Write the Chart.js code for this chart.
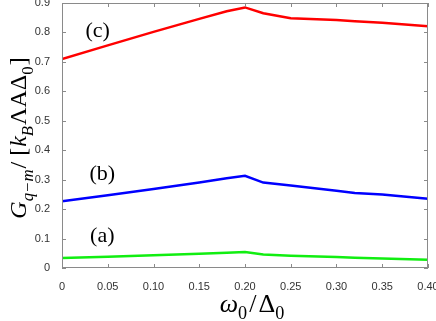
<!DOCTYPE html>
<html>
<head>
<meta charset="utf-8">
<script src="https://cdn.jsdelivr.net/npm/chart.js@4/dist/chart.umd.min.js"></script>
<style>
  html, body { margin: 0; padding: 0; background: #fff; }
  #wrap { width: 436px; height: 321px; }
</style>
</head>
<body>
<div id="wrap"><canvas id="chart"></canvas></div>
<script>
// omega_0 / Delta_0 sample points
const omega = [0, 0.05, 0.1, 0.15, 0.18, 0.2, 0.22, 0.25, 0.3, 0.32, 0.35, 0.4];
// (c) red, (b) blue, (a) green
const seriesC = [0.71, 0.756, 0.802, 0.846, 0.872, 0.885, 0.865, 0.848, 0.842, 0.838, 0.833, 0.821];
const seriesB = [0.227, 0.247, 0.268, 0.29, 0.305, 0.313, 0.29, 0.28, 0.262, 0.255, 0.25, 0.235];
const seriesA = [0.034, 0.038, 0.043, 0.048, 0.052, 0.054, 0.046, 0.042, 0.037, 0.035, 0.032, 0.028];
const panelLabels = ['(a)', '(b)', '(c)'];

const toPoints = ys => omega.map((x, i) => ({ x: x, y: ys[i] }));

const serif = '"Liberation Serif", "DejaVu Serif", serif';

// draw a run of text pieces (normal / italic / subscript) centred on (0,0) along x
function drawRuns(ctx, runs, size) {
    let total = 0;
    const measured = runs.map(r => {
        const s = r.sub ? size * 0.7 : size;
        ctx.font = (r.it ? 'italic ' : '') + s + 'px ' + serif;
        const w = ctx.measureText(r.t).width + (r.gap || 0);
        total += w;
        return { r, s, w };
    });
    let x = -total / 2;
    measured.forEach(m => {
        ctx.font = (m.r.it ? 'italic ' : '') + m.s + 'px ' + serif;
        ctx.fillText(m.r.t, x, m.r.sub ? size * 0.28 : 0);
        x += m.w;
    });
}

const framePlugin = {
    id: 'frame',
    afterDraw(chart) {
        const { ctx, chartArea: a, scales } = chart;
        ctx.save();
        ctx.strokeStyle = '#8a8a8a';
        ctx.lineWidth = 1;
        ctx.strokeRect(a.left + 0.5, a.top + 0.5, a.right - a.left - 1, a.bottom - a.top - 1);

        // inward ticks on all four sides
        ctx.beginPath();
        scales.x.ticks.forEach(t => {
            const px = Math.round(scales.x.getPixelForValue(t.value)) + 0.5;
            ctx.moveTo(px, a.bottom); ctx.lineTo(px, a.bottom - 4);
            ctx.moveTo(px, a.top); ctx.lineTo(px, a.top + 4);
        });
        scales.y.ticks.forEach(t => {
            const py = Math.round(scales.y.getPixelForValue(t.value)) + 0.5;
            ctx.moveTo(a.left, py); ctx.lineTo(a.left + 4, py);
            ctx.moveTo(a.right, py); ctx.lineTo(a.right - 4, py);
        });
        ctx.stroke();

        // panel labels
        ctx.fillStyle = '#000';
        ctx.font = '22px ' + serif;
        ctx.textAlign = 'center';
        ctx.textBaseline = 'middle';
        const spots = [[0.044, 0.109], [0.044, 0.32], [0.039, 0.805]];
        panelLabels.forEach((lab, i) => {
            ctx.fillText(lab, scales.x.getPixelForValue(spots[i][0]), scales.y.getPixelForValue(spots[i][1]));
        });

        // axis titles
        ctx.textAlign = 'left';
        ctx.textBaseline = 'alphabetic';
        ctx.save();
        ctx.translate(252, 312);
        drawRuns(ctx, [
            { t: 'ω', it: true }, { t: '0', sub: true, gap: 2 },
            { t: '/', gap: 2 }, { t: 'Δ' }, { t: '0', sub: true }
        ], 26);
        ctx.restore();

        ctx.save();
        ctx.translate(26, 138);
        ctx.rotate(-Math.PI / 2);
        drawRuns(ctx, [
            { t: 'G', it: true }, { t: 'q−m', it: true, sub: true, gap: 1 },
            { t: '/ [', gap: 1 }, { t: 'k', it: true }, { t: 'B', it: true, sub: true, gap: 1 },
            { t: 'ΛAΔ' }, { t: '0', sub: true, gap: 1 }, { t: ']' }
        ], 24);
        ctx.restore();
        ctx.restore();
    }
};

const tickFont = { family: '"Liberation Sans", Arial, sans-serif', size: 11 };

// drop the label overhang padding so the plot box fills the frame like the reference
const noOverhang = s => { s.paddingTop = 0; s.paddingRight = 0; s.paddingLeft = 0; s.paddingBottom = 0; };

new Chart(document.getElementById('chart'), {
    type: 'line',
    data: {
        datasets: [
            { data: toPoints(seriesC), borderColor: '#ff0000' },
            { data: toPoints(seriesB), borderColor: '#0000ff' },
            { data: toPoints(seriesA), borderColor: '#11ee11' }
        ]
    },
    options: {
        responsive: true,
        maintainAspectRatio: false,
        animation: false,
        layout: { padding: { top: 3, right: 8, left: 0, bottom: 0 } },
        elements: {
            line: { borderWidth: 2.5, tension: 0, fill: false },
            point: { radius: 0 }
        },
        plugins: { legend: { display: false }, tooltip: { enabled: false } },
        scales: {
            x: {
                type: 'linear',
                min: 0, max: 0.4,
                grid: { display: false },
                border: { display: false },
                ticks: { stepSize: 0.05, color: '#333', font: tickFont, padding: 4, maxRotation: 0 },
                afterFit: s => { s.height = 53; noOverhang(s); }
            },
            y: {
                min: 0, max: 0.9,
                grid: { display: false },
                border: { display: false },
                ticks: { stepSize: 0.1, color: '#333', font: tickFont, padding: 4 },
                afterFit: s => { s.width = 62; noOverhang(s); }
            }
        }
    },
    plugins: [framePlugin]
});
</script>
</body>
</html>
